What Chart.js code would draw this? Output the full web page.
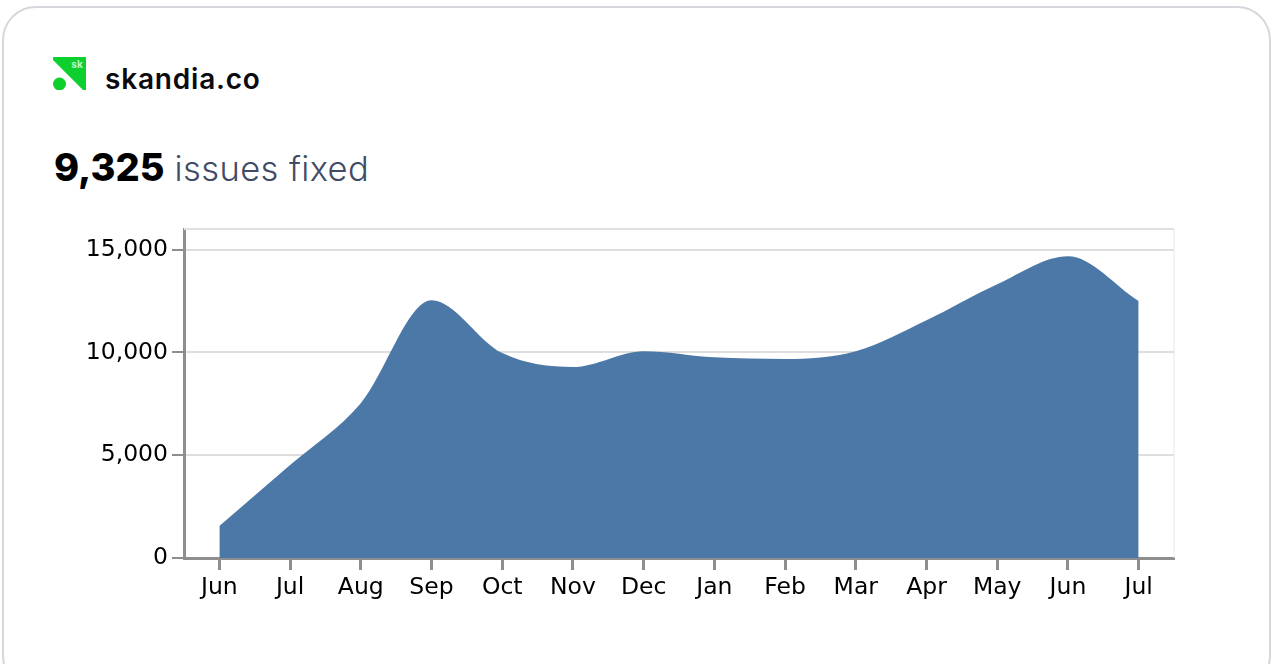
<!DOCTYPE html>
<html>
<head>
<meta charset="utf-8">
<title>skandia.co issues fixed</title>
<script src="https://cdn.jsdelivr.net/npm/chart.js@4/dist/chart.umd.min.js"></script>
<style>
    html, body { margin: 0; padding: 0; width: 1273px; height: 664px; overflow: hidden; background: #fff; }
    .card { position: absolute; left: 2px; top: 6px; width: 1265px; height: 680px; border: 2px solid #d6d6dc; border-radius: 34px; }
    .logo { position: absolute; left: 53px; top: 57px; }
    .brand { position: absolute; left: 105px; top: 61px; font: 600 28px/36px Inter, sans-serif; color: #0b0b0f; letter-spacing: 0.8px; }
    .headline { position: absolute; left: 54px; top: 144px; font: 300 34.5px/46px Inter, sans-serif; color: #414b66; white-space: nowrap; letter-spacing: 0.4px; }
    .headline strong { font: 800 38px/46px Inter, sans-serif; color: #000; letter-spacing: 0; }
    #issuesChart { position: absolute; left: 60px; top: 211px; }
</style>
</head>
<body>
<div class="card"></div>
<svg class="logo" width="33" height="33" viewBox="0 0 33 33">
    <path d="M1 0H32a1 1 0 0 1 1 1V33H30L0 3V1a1 1 0 0 1 1-1z" fill="#0dd02f"/>
    <circle cx="6.5" cy="27" r="6.5" fill="#0dd02f"/>
    <text x="24" y="11" text-anchor="middle" font-family="Inter" font-weight="700" font-size="10" fill="#bff5c8">sk</text>
</svg>
<div class="brand">skandia.co</div>
<div class="headline"><strong>9,325</strong> issues fixed</div>
<canvas id="issuesChart" width="1133" height="404"></canvas>
<script>
const months = ['Jun', 'Jul', 'Aug', 'Sep', 'Oct', 'Nov', 'Dec', 'Jan', 'Feb', 'Mar', 'Apr', 'May', 'Jun', 'Jul'];
const issues = [1560, 4520, 7530, 12540, 9970, 9290, 10060, 9760, 9680, 10060, 11570, 13320, 14680, 12500];
const yTicks = [0, 5000, 10000, 15000];

// light frame round the plot, same colour as the grid
const plotFrame = {
    id: 'plotFrame',
    beforeDatasetsDraw(chart) {
        const a = chart.chartArea, g = chart.ctx;
        g.save();
        g.strokeStyle = '#e0e0e0';
        g.lineWidth = 2;
        g.beginPath();
        g.moveTo(a.left, a.top);
        g.lineTo(a.right, a.top);
        g.stroke();
        g.lineWidth = 1;
        g.strokeStyle = '#e8e8e8';
        g.beginPath();
        g.moveTo(a.right, a.top);
        g.lineTo(a.right, a.bottom);
        g.stroke();
        g.restore();
    }
};

new Chart(document.getElementById('issuesChart'), {
    type: 'line',
    data: {
        labels: months,
        datasets: [{
            data: issues,
            fill: 'origin',
            backgroundColor: '#4c78a8',
            borderWidth: 0,
            pointRadius: 0,
            cubicInterpolationMode: 'monotone'
        }]
    },
    plugins: [plotFrame],
    options: {
        responsive: false,
        animation: false,
        layout: { padding: { top: 13, right: 19, left: 0, bottom: 0 } },
        plugins: { legend: { display: false }, tooltip: { enabled: false } },
        scales: {
            x: {
                offset: true,
                afterFit: s => { s.height = 57; },
                border: { color: '#8e8e8e', width: 3 },
                grid: { drawOnChartArea: false, tickColor: '#8e8e8e', tickWidth: 3, tickLength: 12 },
                ticks: { color: '#000', padding: 4, maxRotation: 0, autoSkip: false, font: { family: 'DejaVu Sans', size: 23.5 } }
            },
            y: {
                min: 0,
                max: 16000,
                afterFit: s => { s.width = 124; },
                afterBuildTicks: s => { s.ticks = yTicks.map(v => ({ value: v })); },
                border: { color: '#8e8e8e', width: 3 },
                grid: { color: '#dedede', lineWidth: 2, tickColor: '#8e8e8e', tickWidth: 2, tickLength: 12 },
                ticks: { color: '#000', padding: 4, callback: v => v.toLocaleString('en-US'), font: { family: 'DejaVu Sans', size: 23.5 } }
            }
        }
    }
});
</script>
</body>
</html>
